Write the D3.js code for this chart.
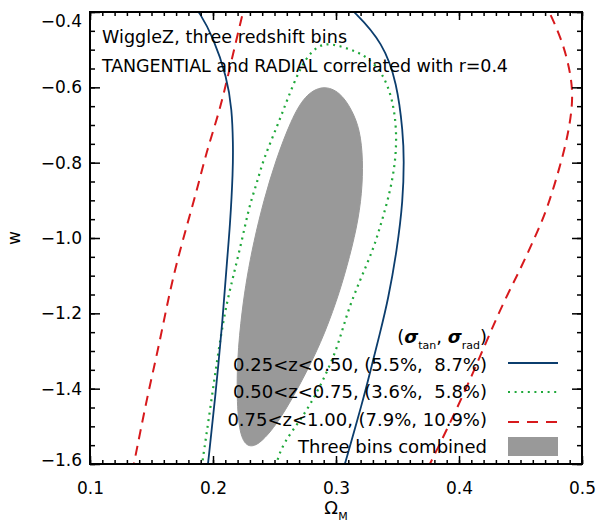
<!DOCTYPE html>
<html><head><meta charset="utf-8">
<script src="https://cdn.jsdelivr.net/npm/d3@7"></script>
<style>
body{margin:0;background:#fff}
text{font-family:"DejaVu Sans",sans-serif;fill:#000;white-space:pre}
</style>
</head><body>
<svg id="c" width="601" height="523"></svg>
<script>
// ---------- data ----------
const xTicks = [0.1, 0.2, 0.3, 0.4, 0.5];
const xTickLabels = ["0.1", "0.2", "0.3", "0.4", "0.5"];
const yTicks = [-1.6, -1.4, -1.2, -1.0, -0.8, -0.6, -0.4];
const yTickLabels = ["−1.6", "−1.4", "−1.2", "−1.0", "−0.8", "−0.6", "−0.4"];

// 0.25<z<0.50 contour (closes above the plotted range: two branches)
const bin1Left = [[0.1813,-0.368],[0.1894,-0.403],[0.2000,-0.466],[0.2114,-0.573],[0.2154,-0.660],
  [0.2163,-0.748],[0.2163,-0.819],[0.2138,-0.971],[0.2114,-1.058],[0.2081,-1.210],[0.2016,-1.430],
  [0.1960,-1.600],[0.1943,-1.642]];
const bin1Right = [[0.3033,-0.368],[0.3154,-0.400],[0.3382,-0.482],[0.3496,-0.588],[0.3545,-0.721],
  [0.3553,-0.793],[0.3545,-0.899],[0.3496,-1.032],[0.3423,-1.165],[0.3358,-1.252],[0.3276,-1.358],
  [0.3220,-1.430],[0.3073,-1.600],[0.3033,-1.642]];

// 0.50<z<0.75 contour (closes below the plotted range)
const bin2 = [[0.1894,-1.642],[0.1911,-1.600],[0.1976,-1.457],[0.2033,-1.324],[0.2098,-1.191],
  [0.2163,-1.104],[0.2236,-1.005],[0.2301,-0.907],[0.2358,-0.854],[0.2407,-0.793],[0.2520,-0.705],
  [0.2602,-0.634],[0.2707,-0.549],[0.2805,-0.501],[0.2911,-0.482],[0.3033,-0.490],[0.3154,-0.504],
  [0.3252,-0.519],[0.3382,-0.562],[0.3463,-0.634],[0.3496,-0.721],[0.3480,-0.811],[0.3423,-0.899],
  [0.3358,-0.971],[0.3301,-1.032],[0.3195,-1.112],[0.3089,-1.199],[0.3008,-1.297],[0.2870,-1.396],
  [0.2732,-1.475],[0.2569,-1.544],[0.2512,-1.600],[0.2488,-1.642]];

// 0.75<z<1.00 contour (closes above the plotted range: two branches)
const bin3Left = [[0.2268,-0.368],[0.2244,-0.400],[0.2138,-0.546],[0.2057,-0.660],[0.1951,-0.766],
  [0.1870,-0.873],[0.1715,-1.050],[0.1634,-1.165],[0.1553,-1.297],[0.1472,-1.412],[0.1407,-1.518],
  [0.1358,-1.597],[0.1333,-1.642]];
const bin3Right = [[0.4683,-0.368],[0.4740,-0.403],[0.4846,-0.482],[0.4911,-0.567],[0.4927,-0.634],
  [0.4894,-0.713],[0.4837,-0.793],[0.4715,-0.926],[0.4618,-0.997],[0.4496,-1.085],[0.4358,-1.173],
  [0.4228,-1.271],[0.4089,-1.377],[0.3951,-1.475],[0.3764,-1.600],[0.3699,-1.642]];

// three bins combined (filled, closed)
const combined = [[0.2894,-0.594],[0.3033,-0.612],[0.3130,-0.660],[0.3195,-0.713],[0.3220,-0.793],
  [0.3211,-0.881],[0.3171,-0.971],[0.3089,-1.077],[0.3008,-1.165],[0.2878,-1.279],[0.2715,-1.385],
  [0.2545,-1.483],[0.2398,-1.542],[0.2301,-1.558],[0.2228,-1.536],[0.2195,-1.457],[0.2195,-1.324],
  [0.2236,-1.191],[0.2276,-1.104],[0.2329,-1.013],[0.2413,-0.899],[0.2511,-0.793],[0.2634,-0.687],
  [0.2748,-0.620]];

const legendLabels = ["0.25<z<0.50, (5.5%,  8.7%)", "0.50<z<0.75, (3.6%,  5.8%)",
  "0.75<z<1.00, (7.9%, 10.9%)", "Three bins combined"];
const titleLines = ["WiggleZ, three redshift bins", "TANGENTIAL and RADIAL correlated with r=0.4"];

// ---------- drawing ----------
const BLUE = "#0b3d6d", GREEN = "#1fa83a", RED = "#d7191c", GRAY = "#999999";
const svg = d3.select("#c");
const L = 90, R = 582, T = 12, B = 464;
const x = d3.scaleLinear().domain([0.1, 0.5]).range([L, R]);
const y = d3.scaleLinear().domain([-1.6, -0.4]).range([B, T]);

svg.append("defs").append("clipPath").attr("id", "clip")
  .append("rect").attr("x", L).attr("y", T).attr("width", R - L).attr("height", B - T);

const plot = svg.append("g").attr("clip-path", "url(#clip)");
const line = d3.line().x(d => x(d[0])).y(d => y(d[1])).curve(d3.curveBasis);
const closedLine = d3.line().x(d => x(d[0])).y(d => y(d[1])).curve(d3.curveBasisClosed);

plot.append("path").attr("d", closedLine(combined)).attr("fill", GRAY).attr("stroke", GRAY).attr("stroke-width", 1);
[bin3Left, bin3Right].forEach(b => plot.append("path").attr("d", line(b)).attr("fill", "none")
  .attr("stroke", RED).attr("stroke-width", 2).attr("stroke-dasharray", "10,7"));
plot.append("path").attr("d", line(bin2)).attr("fill", "none")
  .attr("stroke", GREEN).attr("stroke-width", 2.2).attr("stroke-dasharray", "2,4.6");
[bin1Left, bin1Right].forEach(b => plot.append("path").attr("d", line(b)).attr("fill", "none")
  .attr("stroke", BLUE).attr("stroke-width", 1.8));

// axes
const minorX = d3.range(0, 41).map(i => 0.1 + i * 0.01);
const minorY = d3.range(0, 25).map(i => -1.6 + i * 0.05);
function styleAxis(g) {
  g.select(".domain").remove();
  g.selectAll("line").attr("stroke", "#000").attr("stroke-width", 1.5);
}
svg.append("g").attr("transform", `translate(0,${B})`)
  .call(d3.axisBottom(x).tickValues(minorX).tickSize(-4).tickFormat(""))
  .call(styleAxis);
svg.append("g").attr("transform", `translate(0,${T})`)
  .call(d3.axisTop(x).tickValues(minorX).tickSize(-4).tickFormat(""))
  .call(styleAxis);
svg.append("g").attr("transform", `translate(${L},0)`)
  .call(d3.axisLeft(y).tickValues(minorY).tickSize(-5).tickFormat(""))
  .call(styleAxis);
svg.append("g").attr("transform", `translate(${R},0)`)
  .call(d3.axisRight(y).tickValues(minorY).tickSize(-5).tickFormat(""))
  .call(styleAxis);

const xb = svg.append("g").attr("transform", `translate(0,${B})`)
  .call(d3.axisBottom(x).tickValues(xTicks).tickSize(-8).tickPadding(18)
    .tickFormat((d, i) => xTickLabels[i]))
  .call(styleAxis);
svg.append("g").attr("transform", `translate(0,${T})`)
  .call(d3.axisTop(x).tickValues(xTicks).tickSize(-8).tickFormat(""))
  .call(styleAxis);
const yl = svg.append("g").attr("transform", `translate(${L},0)`)
  .call(d3.axisLeft(y).tickValues(yTicks).tickSize(-10).tickPadding(8)
    .tickFormat((d, i) => yTickLabels[i]))
  .call(styleAxis);
svg.append("g").attr("transform", `translate(${R},0)`)
  .call(d3.axisRight(y).tickValues(yTicks).tickSize(-10).tickFormat(""))
  .call(styleAxis);
[xb, yl].forEach(g => g.selectAll("text").attr("font-family", "DejaVu Sans")
  .attr("font-size", 17).attr("fill", "#000"));
yl.selectAll(".tick").filter(d => d === -0.4).select("text").attr("dy", "0.85em");
yl.selectAll(".tick").filter(d => d === -1.6).select("text").attr("dy", "0.1em");

svg.append("rect").attr("x", L).attr("y", T).attr("width", R - L).attr("height", B - T)
  .attr("fill", "none").attr("stroke", "#000").attr("stroke-width", 2);

// axis titles
const xt = svg.append("text").attr("x", 336).attr("y", 514).attr("text-anchor", "middle")
  .attr("font-size", 18);
xt.append("tspan").text("Ω");
xt.append("tspan").attr("font-size", 11).attr("dy", 6).text("M");
svg.append("text").attr("transform", "translate(20,238) rotate(-90)").attr("text-anchor", "middle")
  .attr("font-size", 17).text("w");

// titles
svg.append("text").attr("x", 102).attr("y", 43).attr("font-size", 17.5)
  .attr("textLength", 245).attr("lengthAdjust", "spacing").text(titleLines[0]);
svg.append("text").attr("x", 102).attr("y", 72).attr("font-size", 17.5)
  .attr("textLength", 406).attr("lengthAdjust", "spacing").text(titleLines[1]);

// legend
const hdr = svg.append("text").attr("x", 487).attr("y", 343).attr("text-anchor", "end").attr("font-size", 18);
hdr.append("tspan").text("(");
hdr.append("tspan").attr("font-style", "italic").attr("font-weight", "bold").text("σ");
hdr.append("tspan").attr("font-size", 11).attr("dy", 6).text("tan");
hdr.append("tspan").attr("dy", -6).text(", ");
hdr.append("tspan").attr("font-style", "italic").attr("font-weight", "bold").text("σ");
hdr.append("tspan").attr("font-size", 11).attr("dy", 6).text("rad");
hdr.append("tspan").attr("dy", -6).text(")");

const legBase = [371, 398, 426, 453];
const legSym = [363, 392, 422, 446];
legendLabels.forEach((lab, i) => {
  svg.append("text").attr("x", 487).attr("y", legBase[i]).attr("text-anchor", "end")
    .attr("font-size", 18).text(lab);
});
svg.append("line").attr("x1", 508).attr("x2", 558).attr("y1", legSym[0]).attr("y2", legSym[0])
  .attr("stroke", BLUE).attr("stroke-width", 1.8);
svg.append("line").attr("x1", 508).attr("x2", 558).attr("y1", legSym[1]).attr("y2", legSym[1])
  .attr("stroke", GREEN).attr("stroke-width", 2.2).attr("stroke-dasharray", "2,4.6");
svg.append("line").attr("x1", 508).attr("x2", 558).attr("y1", legSym[2]).attr("y2", legSym[2])
  .attr("stroke", RED).attr("stroke-width", 2).attr("stroke-dasharray", "11,8");
svg.append("rect").attr("x", 508).attr("y", 437).attr("width", 50).attr("height", 19).attr("fill", GRAY);
</script>
</body></html>
